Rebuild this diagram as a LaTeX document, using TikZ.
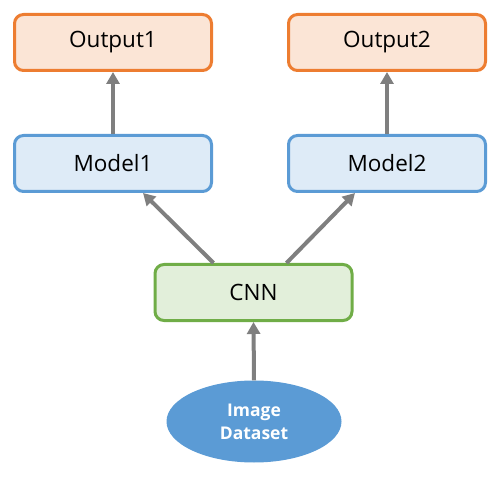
\documentclass[tikz,border=0pt]{standalone}
\usepackage{fontspec}
\setmainfont{Open Sans}
\usetikzlibrary{arrows.meta,shapes.geometric}
\definecolor{oline}{HTML}{ED7D31}
\definecolor{ofill}{HTML}{FBE5D6}
\definecolor{bline}{HTML}{5B9BD5}
\definecolor{bfill}{HTML}{DEEBF7}
\definecolor{gline}{HTML}{70AD47}
\definecolor{gfill}{HTML}{E2EFDA}
\definecolor{arr}{HTML}{7F7F7F}
\tikzset{
  box/.style={rectangle, rounded corners=9pt, line width=3pt, minimum width=197pt, minimum height=56pt, inner sep=0pt, font=\fontsize{22.5}{25}\selectfont},
  outbox/.style={box, draw=oline, fill=ofill},
  modbox/.style={box, draw=bline, fill=bfill},
  cnnbox/.style={box, draw=gline, fill=gfill},
  dataell/.style={ellipse, fill=bline, minimum width=175pt, minimum height=82pt, inner sep=0pt, text=white, font=\bfseries\fontsize{17.5}{23}\selectfont, align=center},
  conn/.style={draw=arr, line width=4pt, -{Triangle[length=12pt,width=13pt]}}
}
\begin{document}
\begin{tikzpicture}[x=1pt,y=-1pt]
\useasboundingbox (0,0) rectangle (503,478);
\node[outbox] (o1) at (113,42.5) {Output1};
\node[outbox] (o2) at (387,42.5) {Output2};
\node[modbox] (m1) at (113,163.5) {Model1};
\node[modbox] (m2) at (387,163.5) {Model2};
\node[cnnbox] (cnn) at (253.5,292.5) {CNN};
\node[dataell] (ds) at (254,421.5) {Image\\Dataset};
\draw[conn] (m1.north) -- (o1.south);
\draw[conn] (m2.north) -- (o2.south);
\draw[conn] ([xshift=-40pt]cnn.north) -- ([xshift=30pt]m1.south);
\draw[conn] ([xshift=33pt]cnn.north) -- ([xshift=-32pt]m2.south);
\draw[conn] (ds.north) -- (cnn.south);
\end{tikzpicture}
\end{document}
